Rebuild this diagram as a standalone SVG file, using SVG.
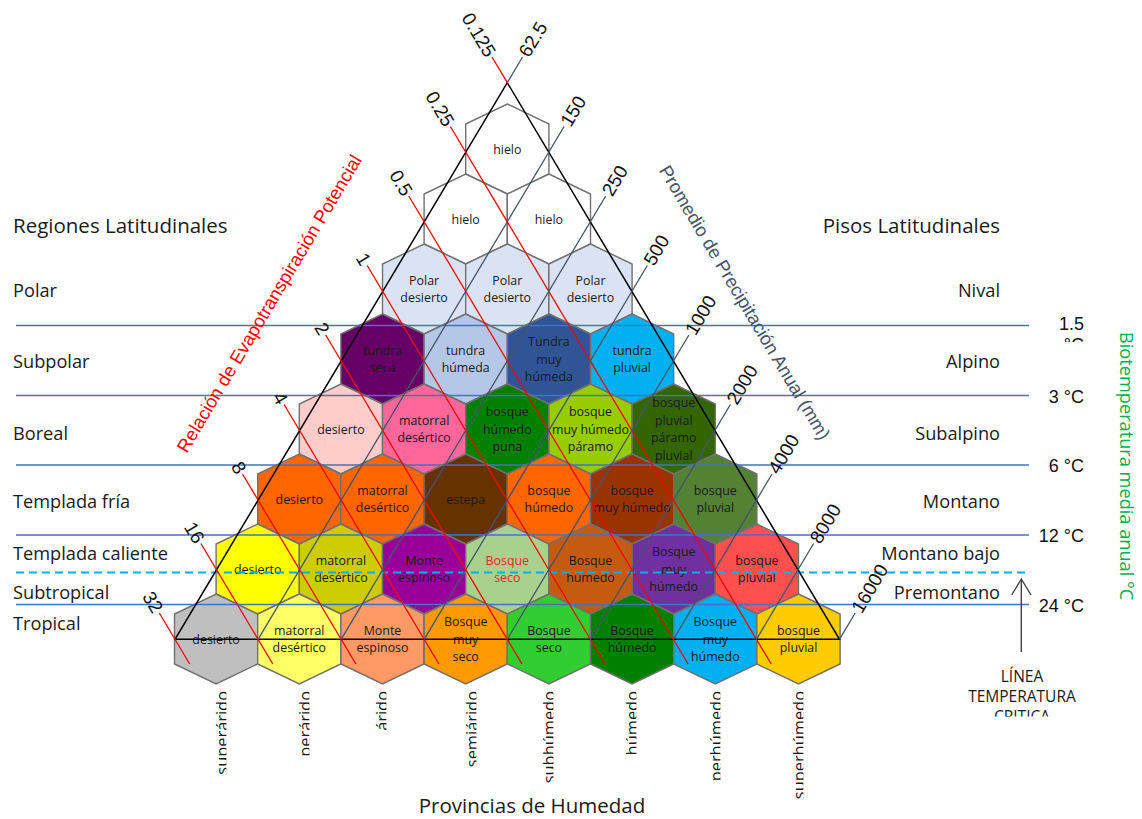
<svg xmlns="http://www.w3.org/2000/svg" width="1142" height="819" viewBox="0 0 1142 819">
<style>
.hx{stroke:#707070;stroke-width:1.4}
.ht{font-family:"Open Sans","Liberation Sans",sans-serif;font-size:12.4px;fill:#1a1a1a;text-anchor:middle}
.cal{font-family:"Open Sans","Liberation Sans",sans-serif;fill:#1a1a1a}
.ari{font-family:"Liberation Sans",Arial,sans-serif;fill:#111}
.tl{stroke:#4472C4;stroke-width:1.4;fill:none}
.rl{stroke:#FF0000;stroke-width:1.3;fill:none}
.bl{stroke:#44546A;stroke-width:1.3;fill:none}
.tri{stroke:#000;stroke-width:1.5;fill:none}
.num{font-family:"Liberation Sans",Arial,sans-serif;font-size:19px;fill:#111}
.prov{font-family:"Open Sans","Liberation Sans",sans-serif;font-size:16.4px;fill:#1a1a1a;text-anchor:end}
</style>
<defs>
<polygon id="hx" points="0,-45 41.6,-25 41.6,25 0,45 -41.6,25 -41.6,-25"/>
<clipPath id="cb" clipPathUnits="userSpaceOnUse"><rect x="-300" y="-40" width="310" height="38"/></clipPath>
<clipPath id="c15" clipPathUnits="userSpaceOnUse"><rect x="1030" y="300" width="80" height="42"/></clipPath>
<clipPath id="ccr" clipPathUnits="userSpaceOnUse"><rect x="930" y="660" width="190" height="56.5"/></clipPath>
</defs>
<rect width="1142" height="819" fill="#fff"/>

<!-- hexagons -->
<g id="nodes">
<g id="h0-0"><use href="#hx" x="507.3" y="149" fill="#fff" class="hx"/><text class="ht"><tspan x="507.3" y="153.6">hielo</tspan></text></g>
<g id="h1-0"><use href="#hx" x="465.7" y="219" fill="#fff" class="hx"/><text class="ht"><tspan x="465.7" y="223.6">hielo</tspan></text></g>
<g id="h1-1"><use href="#hx" x="548.9" y="219" fill="#fff" class="hx"/><text class="ht"><tspan x="548.9" y="223.6">hielo</tspan></text></g>
<g id="h2-0"><use href="#hx" x="424.1" y="289" fill="#DAE3F3" class="hx"/><text class="ht"><tspan x="424.1" y="284.75">Polar</tspan><tspan x="424.1" y="302.45">desierto</tspan></text></g>
<g id="h2-1"><use href="#hx" x="507.3" y="289" fill="#DAE3F3" class="hx"/><text class="ht"><tspan x="507.3" y="284.75">Polar</tspan><tspan x="507.3" y="302.45">desierto</tspan></text></g>
<g id="h2-2"><use href="#hx" x="590.5" y="289" fill="#DAE3F3" class="hx"/><text class="ht"><tspan x="590.5" y="284.75">Polar</tspan><tspan x="590.5" y="302.45">desierto</tspan></text></g>
<g id="h3-0"><use href="#hx" x="382.5" y="359" fill="#660066" class="hx"/><text class="ht"><tspan x="382.5" y="354.75">tundra</tspan><tspan x="382.5" y="372.45">seca</tspan></text></g>
<g id="h3-1"><use href="#hx" x="465.7" y="359" fill="#B4C7E7" class="hx"/><text class="ht"><tspan x="465.7" y="354.75">tundra</tspan><tspan x="465.7" y="372.45">húmeda</tspan></text></g>
<g id="h3-2"><use href="#hx" x="548.9" y="359" fill="#2F5597" class="hx"/><text class="ht"><tspan x="548.9" y="345.9">Tundra</tspan><tspan x="548.9" y="363.6">muy</tspan><tspan x="548.9" y="381.3">húmeda</tspan></text></g>
<g id="h3-3"><use href="#hx" x="632.1" y="359" fill="#00B0F0" class="hx"/><text class="ht"><tspan x="632.1" y="354.75">tundra</tspan><tspan x="632.1" y="372.45">pluvial</tspan></text></g>
<g id="h4-0"><use href="#hx" x="340.9" y="429" fill="#FFCCCC" class="hx"/><text class="ht"><tspan x="340.9" y="433.6">desierto</tspan></text></g>
<g id="h4-1"><use href="#hx" x="424.1" y="429" fill="#FF6699" class="hx"/><text class="ht"><tspan x="424.1" y="424.75">matorral</tspan><tspan x="424.1" y="442.45">desértico</tspan></text></g>
<g id="h4-2"><use href="#hx" x="507.3" y="429" fill="#008000" class="hx"/><text class="ht"><tspan x="507.3" y="415.9">bosque</tspan><tspan x="507.3" y="433.6">húmedo</tspan><tspan x="507.3" y="451.3">puna</tspan></text></g>
<g id="h4-3"><use href="#hx" x="590.5" y="429" fill="#99CC00" class="hx"/><text class="ht"><tspan x="590.5" y="415.9">bosque</tspan><tspan x="590.5" y="433.6">muy húmedo</tspan><tspan x="590.5" y="451.3">páramo</tspan></text></g>
<g id="h4-4"><use href="#hx" x="673.7" y="429" fill="#336600" class="hx"/><text class="ht"><tspan x="673.7" y="407.05">bosque</tspan><tspan x="673.7" y="424.75">pluvial</tspan><tspan x="673.7" y="442.45">páramo</tspan><tspan x="673.7" y="460.15">pluvial</tspan></text></g>
<g id="h5-0"><use href="#hx" x="299.3" y="499" fill="#FF6600" class="hx"/><text class="ht"><tspan x="299.3" y="503.6">desierto</tspan></text></g>
<g id="h5-1"><use href="#hx" x="382.5" y="499" fill="#FF6600" class="hx"/><text class="ht"><tspan x="382.5" y="494.75">matorral</tspan><tspan x="382.5" y="512.45">desértico</tspan></text></g>
<g id="h5-2"><use href="#hx" x="465.7" y="499" fill="#663300" class="hx"/><text class="ht"><tspan x="465.7" y="503.6">estepa</tspan></text></g>
<g id="h5-3"><use href="#hx" x="548.9" y="499" fill="#FF6600" class="hx"/><text class="ht"><tspan x="548.9" y="494.75">bosque</tspan><tspan x="548.9" y="512.45">húmedo</tspan></text></g>
<g id="h5-4"><use href="#hx" x="632.1" y="499" fill="#993300" class="hx"/><text class="ht"><tspan x="632.1" y="494.75">bosque</tspan><tspan x="632.1" y="512.45">muy húmedo</tspan></text></g>
<g id="h5-5"><use href="#hx" x="715.3" y="499" fill="#548235" class="hx"/><text class="ht"><tspan x="715.3" y="494.75">bosque</tspan><tspan x="715.3" y="512.45">pluvial</tspan></text></g>
<g id="h6-0"><use href="#hx" x="257.7" y="569" fill="#FFFF00" class="hx"/><text class="ht"><tspan x="257.7" y="573.6">desierto</tspan></text></g>
<g id="h6-1"><use href="#hx" x="340.9" y="569" fill="#CCCC00" class="hx"/><text class="ht"><tspan x="340.9" y="564.75">matorral</tspan><tspan x="340.9" y="582.45">desértico</tspan></text></g>
<g id="h6-2"><use href="#hx" x="424.1" y="569" fill="#990099" class="hx"/><text class="ht"><tspan x="424.1" y="564.75">Monte</tspan><tspan x="424.1" y="582.45">espinoso</tspan></text></g>
<g id="h6-3"><use href="#hx" x="507.3" y="569" fill="#A9D18E" class="hx"/><text class="ht" style="fill:#E8262B"><tspan x="507.3" y="564.75">Bosque</tspan><tspan x="507.3" y="582.45">seco</tspan></text></g>
<g id="h6-4"><use href="#hx" x="590.5" y="569" fill="#C55A11" class="hx"/><text class="ht"><tspan x="590.5" y="564.75">Bosque</tspan><tspan x="590.5" y="582.45">húmedo</tspan></text></g>
<g id="h6-5"><use href="#hx" x="673.7" y="569" fill="#7030A0" class="hx"/><text class="ht"><tspan x="673.7" y="555.9">Bosque</tspan><tspan x="673.7" y="573.6">muy</tspan><tspan x="673.7" y="591.3">húmedo</tspan></text></g>
<g id="h6-6"><use href="#hx" x="756.9" y="569" fill="#FF5050" class="hx"/><text class="ht"><tspan x="756.9" y="564.75">bosque</tspan><tspan x="756.9" y="582.45">pluvial</tspan></text></g>
<g id="h7-0"><use href="#hx" x="216.1" y="639" fill="#BFBFBF" class="hx"/><text class="ht"><tspan x="216.1" y="643.6">desierto</tspan></text></g>
<g id="h7-1"><use href="#hx" x="299.3" y="639" fill="#FFFF66" class="hx"/><text class="ht"><tspan x="299.3" y="634.75">matorral</tspan><tspan x="299.3" y="652.45">desértico</tspan></text></g>
<g id="h7-2"><use href="#hx" x="382.5" y="639" fill="#FF9966" class="hx"/><text class="ht"><tspan x="382.5" y="634.75">Monte</tspan><tspan x="382.5" y="652.45">espinoso</tspan></text></g>
<g id="h7-3"><use href="#hx" x="465.7" y="639" fill="#FF9900" class="hx"/><text class="ht"><tspan x="465.7" y="625.9">Bosque</tspan><tspan x="465.7" y="643.6">muy</tspan><tspan x="465.7" y="661.3">seco</tspan></text></g>
<g id="h7-4"><use href="#hx" x="548.9" y="639" fill="#33CC33" class="hx"/><text class="ht"><tspan x="548.9" y="634.75">Bosque</tspan><tspan x="548.9" y="652.45">seco</tspan></text></g>
<g id="h7-5"><use href="#hx" x="632.1" y="639" fill="#008000" class="hx"/><text class="ht"><tspan x="632.1" y="634.75">Bosque</tspan><tspan x="632.1" y="652.45">húmedo</tspan></text></g>
<g id="h7-6"><use href="#hx" x="715.3" y="639" fill="#00B0F0" class="hx"/><text class="ht"><tspan x="715.3" y="625.9">Bosque</tspan><tspan x="715.3" y="643.6">muy</tspan><tspan x="715.3" y="661.3">húmedo</tspan></text></g>
<g id="h7-7"><use href="#hx" x="798.5" y="639" fill="#FFCC00" class="hx"/><text class="ht"><tspan x="798.5" y="634.75">bosque</tspan><tspan x="798.5" y="652.45">pluvial</tspan></text></g>
</g>

<!-- lines -->
<g id="connectors">
<line class="tl" x1="16" y1="325.5" x2="1029" y2="325.5"/>
<line class="tl" x1="16" y1="395.5" x2="1029" y2="395.5"/>
<line class="tl" x1="16" y1="465" x2="1029" y2="465"/>
<line class="tl" x1="16" y1="535" x2="1029" y2="535"/>
<line class="tl" x1="16" y1="604.5" x2="1029" y2="604.5"/>
<line x1="16" y1="572.5" x2="1029" y2="572.5" stroke="#00B0F0" stroke-width="2" stroke-dasharray="8 5"/>
<polygon class="tri" points="507.3,82.7 175,639.3 839.5,639.3"/>
<line class="rl" x1="492.0" y1="57" x2="507.3" y2="82.7"/>
<line class="rl" x1="450.4" y1="126.5" x2="771.2" y2="664"/>
<line class="rl" x1="408.8" y1="196" x2="688.1" y2="664"/>
<line class="rl" x1="367.2" y1="265.5" x2="605.1" y2="664"/>
<line class="rl" x1="325.7" y1="335" x2="522.0" y2="664"/>
<line class="rl" x1="284.1" y1="404.5" x2="438.9" y2="664"/>
<line class="rl" x1="242.5" y1="474" x2="355.9" y2="664"/>
<line class="rl" x1="200.9" y1="543.5" x2="272.8" y2="664"/>
<line class="rl" x1="159.3" y1="613" x2="189.7" y2="664"/>
<line class="bl" x1="522.5" y1="57" x2="507.3" y2="82.7"/>
<line class="bl" x1="564.1" y1="126.5" x2="258.06" y2="639.3"/>
<line class="bl" x1="605.7" y1="196" x2="341.13" y2="639.3"/>
<line class="bl" x1="647.3" y1="265.5" x2="424.19" y2="639.3"/>
<line class="bl" x1="688.9" y1="335" x2="507.25" y2="639.3"/>
<line class="bl" x1="730.4" y1="404.5" x2="590.31" y2="639.3"/>
<line class="bl" x1="772.0" y1="474" x2="673.38" y2="639.3"/>
<line class="bl" x1="813.6" y1="543.5" x2="756.44" y2="639.3"/>
<line class="bl" x1="855.2" y1="613" x2="839.5" y2="639.3"/>
<g stroke="#404040" stroke-width="1.4" fill="none">
<line x1="1021.3" y1="652" x2="1021.3" y2="579.5"/>
<polyline points="1011.7,595 1021.3,579 1031,595"/>
</g>
</g>

<!-- scale labels -->
<g id="pet-labels" class="num" text-anchor="end">
<text transform="translate(492.0,57) rotate(59.17)" x="-2" y="6.5">0.125</text>
<text transform="translate(450.4,126.5) rotate(59.17)" x="-2" y="6.5">0.25</text>
<text transform="translate(408.8,196) rotate(59.17)" x="-2" y="6.5">0.5</text>
<text transform="translate(367.2,265.5) rotate(59.17)" x="-2" y="6.5">1</text>
<text transform="translate(325.7,335) rotate(59.17)" x="-2" y="6.5">2</text>
<text transform="translate(284.1,404.5) rotate(59.17)" x="-2" y="6.5">4</text>
<text transform="translate(242.5,474) rotate(59.17)" x="-2" y="6.5">8</text>
<text transform="translate(200.9,543.5) rotate(59.17)" x="-2" y="6.5">16</text>
<text transform="translate(159.3,613) rotate(59.17)" x="-2" y="6.5">32</text>
</g>
<g id="prec-labels" class="num" text-anchor="start">
<text transform="translate(522.5,57) rotate(-59.17)" x="2" y="6.5">62.5</text>
<text transform="translate(564.1,126.5) rotate(-59.17)" x="2" y="6.5">150</text>
<text transform="translate(605.7,196) rotate(-59.17)" x="2" y="6.5">250</text>
<text transform="translate(647.3,265.5) rotate(-59.17)" x="2" y="6.5">500</text>
<text transform="translate(688.9,335) rotate(-59.17)" x="2" y="6.5">1000</text>
<text transform="translate(730.4,404.5) rotate(-59.17)" x="2" y="6.5">2000</text>
<text transform="translate(772.0,474) rotate(-59.17)" x="2" y="6.5">4000</text>
<text transform="translate(813.6,543.5) rotate(-59.17)" x="2" y="6.5">8000</text>
<text transform="translate(855.2,613) rotate(-59.17)" x="2" y="6.5">16000</text>
</g>

<g id="axis-titles">
<text transform="translate(274.7,306.8) rotate(-59.2)" font-family="'Liberation Sans',Arial,sans-serif" font-size="18.5" fill="#FF0000" text-anchor="middle">Relación de Evapotranspiración Potencial</text>
<text transform="translate(739.3,305.8) rotate(59.2)" font-family="'Liberation Sans',Arial,sans-serif" font-size="18.5" fill="#44546A" text-anchor="middle">Promedio de Precipitación Anual (mm)</text>
<text transform="translate(1120,332) rotate(90)" font-family="'Open Sans','Liberation Sans',sans-serif" font-size="18.2" fill="#00B050">Biotemperatura media anual °C</text>
<text x="532" y="813" class="cal" font-size="20.5" text-anchor="middle">Provincias de Humedad</text>
</g>

<g id="regiones" class="cal" font-size="18.2">
<text x="13" y="233" font-size="20.5">Regiones Latitudinales</text>
<text x="13" y="297">Polar</text>
<text x="13" y="368">Subpolar</text>
<text x="13" y="440">Boreal</text>
<text x="13" y="508">Templada fría</text>
<text x="13" y="560">Templada caliente</text>
<text x="13" y="599">Subtropical</text>
<text x="13" y="630">Tropical</text>
</g>
<g id="pisos" class="cal" font-size="18.2" text-anchor="end">
<text x="1000" y="233" font-size="20.5">Pisos Latitudinales</text>
<text x="1000" y="297">Nival</text>
<text x="1000" y="368">Alpino</text>
<text x="1000" y="440">Subalpino</text>
<text x="1000" y="508">Montano</text>
<text x="1000" y="560">Montano bajo</text>
<text x="1000" y="599">Premontano</text>
</g>
<g id="temperaturas" class="ari" font-size="18" text-anchor="end">
<g clip-path="url(#c15)"><text x="1084" y="330">1.5</text><text x="1084" y="351">°C</text></g>
<text x="1084" y="402.5">3 °C</text>
<text x="1084" y="472">6 °C</text>
<text x="1084" y="541.7">12 °C</text>
<text x="1084" y="611.7">24 °C</text>
</g>
<g id="linea-critica" class="cal" font-size="15.5" text-anchor="middle">
<g clip-path="url(#ccr)">
<text x="1022" y="682">LÍNEA</text>
<text x="1022" y="702">TEMPERATURA</text>
<text x="1022" y="722">CRITICA</text>
</g>
</g>
<g id="provincias">
<g transform="translate(228.4,691) rotate(-90)"><text class="prov" clip-path="url(#cb)">superárido</text></g>
<g transform="translate(311.4,691) rotate(-90)"><text class="prov" clip-path="url(#cb)">perárido</text></g>
<g transform="translate(388.4,691) rotate(-90)"><text class="prov" clip-path="url(#cb)">árido</text></g>
<g transform="translate(478.4,691) rotate(-90)"><text class="prov" clip-path="url(#cb)">semiárido</text></g>
<g transform="translate(555.4,691) rotate(-90)"><text class="prov" clip-path="url(#cb)">subhúmedo</text></g>
<g transform="translate(638.4,691) rotate(-90)"><text class="prov" clip-path="url(#cb)">húmedo</text></g>
<g transform="translate(722.4,691) rotate(-90)"><text class="prov" clip-path="url(#cb)">perhúmedo</text></g>
<g transform="translate(805.4,691) rotate(-90)"><text class="prov" clip-path="url(#cb)">superhúmedo</text></g>
</g>
</svg>
